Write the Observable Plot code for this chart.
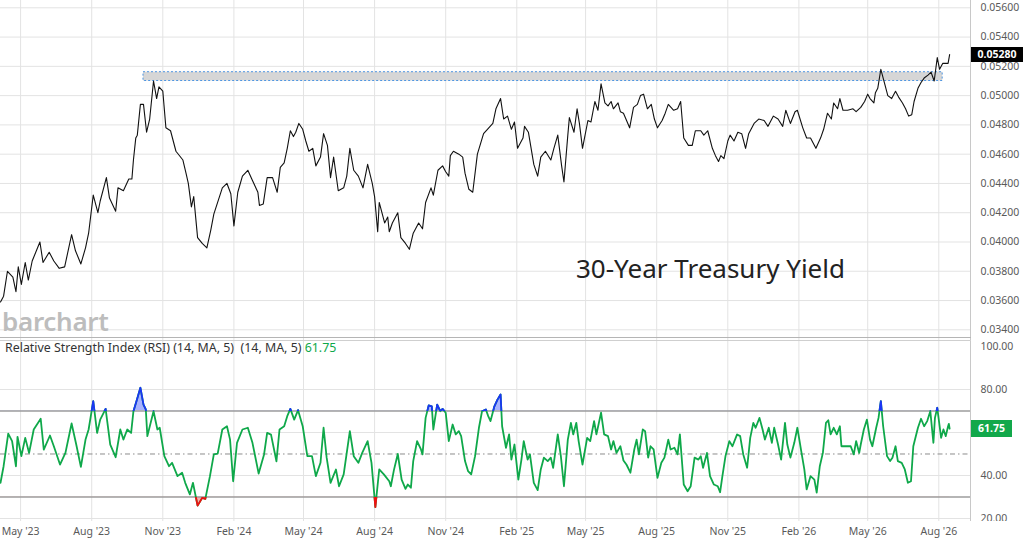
<!DOCTYPE html>
<html>
<head>
<meta charset="utf-8">
<script src="https://cdn.jsdelivr.net/npm/d3@7"></script>
<script src="https://cdn.jsdelivr.net/npm/@observablehq/plot@0.6"></script>
<style>
  html, body { margin: 0; padding: 0; background: #fff; }
  #wrap { position: relative; width: 1024px; height: 544px; overflow: hidden; font-family: "Noto Sans", sans-serif; }
  #wrap svg { position: absolute; left: 0; }
  .ov { position: absolute; white-space: nowrap; }
</style>
</head>
<body>
<div id="wrap"></div>
<script>
// ---------- Data ----------
const priceDates = [
  "2023-04-05","2023-04-09","2023-04-14","2023-04-21","2023-04-25","2023-04-28",
  "2023-05-02","2023-05-07","2023-05-11","2023-05-16","2023-05-26","2023-05-30",
  "2023-06-07","2023-06-13","2023-06-20","2023-06-27",
  "2023-07-06","2023-07-11","2023-07-18","2023-07-24","2023-07-28",
  "2023-08-03","2023-08-09","2023-08-12","2023-08-20","2023-08-24",
  "2023-09-01","2023-09-04","2023-09-11","2023-09-18","2023-09-22","2023-09-24","2023-09-27","2023-09-29",
  "2023-10-03","2023-10-07","2023-10-11","2023-10-15","2023-10-20","2023-10-24","2023-10-27",
  "2023-11-01","2023-11-05","2023-11-11","2023-11-18","2023-11-27",
  "2023-12-01","2023-12-04","2023-12-08","2023-12-11","2023-12-16","2023-12-22","2023-12-28",
  "2024-01-02","2024-01-06","2024-01-17","2024-01-23","2024-01-28",
  "2024-02-01","2024-02-06","2024-02-12","2024-02-19","2024-02-25",
  "2024-03-03","2024-03-05","2024-03-10","2024-03-15","2024-03-22","2024-03-28",
  "2024-04-01","2024-04-06","2024-04-10","2024-04-14","2024-04-18","2024-04-21","2024-04-25","2024-04-30",
  "2024-05-04","2024-05-08","2024-05-13","2024-05-17","2024-05-23","2024-05-27",
  "2024-06-01","2024-06-05","2024-06-09","2024-06-15","2024-06-22","2024-06-26","2024-06-30",
  "2024-07-05","2024-07-11","2024-07-17","2024-07-23","2024-07-29",
  "2024-08-01","2024-08-05","2024-08-07","2024-08-14","2024-08-18","2024-08-20","2024-08-24","2024-08-31",
  "2024-09-04","2024-09-10","2024-09-15","2024-09-20","2024-09-27",
  "2024-10-02","2024-10-06","2024-10-13","2024-10-16","2024-10-22","2024-10-28",
  "2024-11-01","2024-11-05","2024-11-07","2024-11-11","2024-11-18","2024-11-23","2024-11-26",
  "2024-12-01","2024-12-06","2024-12-12","2024-12-20","2024-12-25",
  "2025-01-01","2025-01-05","2025-01-11","2025-01-15","2025-01-20","2025-01-25","2025-01-29",
  "2025-02-02","2025-02-09","2025-02-11","2025-02-16","2025-02-23","2025-02-28",
  "2025-03-04","2025-03-10","2025-03-17","2025-03-21","2025-03-26","2025-03-31",
  "2025-04-03","2025-04-08","2025-04-10","2025-04-16","2025-04-20","2025-04-23","2025-04-27",
  "2025-05-04","2025-05-08","2025-05-13","2025-05-17","2025-05-21","2025-05-26","2025-05-30",
  "2025-06-03","2025-06-06","2025-06-12","2025-06-15","2025-06-19","2025-06-27",
  "2025-07-02","2025-07-07","2025-07-11","2025-07-15","2025-07-20","2025-07-25","2025-07-29",
  "2025-08-02","2025-08-08","2025-08-12","2025-08-16","2025-08-23","2025-08-28",
  "2025-09-01","2025-09-05","2025-09-11","2025-09-16","2025-09-20","2025-09-27",
  "2025-10-01","2025-10-06","2025-10-12","2025-10-16","2025-10-20","2025-10-23","2025-10-27",
  "2025-11-01","2025-11-04","2025-11-09","2025-11-14","2025-11-19","2025-11-24","2025-11-28",
  "2025-12-05","2025-12-11","2025-12-18","2025-12-23","2025-12-30",
  "2026-01-05","2026-01-11","2026-01-15","2026-01-21","2026-01-27","2026-01-30",
  "2026-02-06","2026-02-11","2026-02-16","2026-02-23",
  "2026-03-01","2026-03-05","2026-03-10","2026-03-15","2026-03-18","2026-03-23","2026-03-26","2026-03-30",
  "2026-04-05","2026-04-12","2026-04-16","2026-04-22","2026-04-27",
  "2026-05-01","2026-05-04","2026-05-09","2026-05-11","2026-05-14","2026-05-18","2026-05-23","2026-05-27",
  "2026-06-01","2026-06-06","2026-06-10","2026-06-15","2026-06-19","2026-06-23","2026-06-27","2026-06-30",
  "2026-07-05","2026-07-09","2026-07-13","2026-07-18","2026-07-22","2026-07-26","2026-07-30",
  "2026-08-02","2026-08-06","2026-08-10","2026-08-13","2026-08-15"
];
const priceValues = [
  0.0359,0.0363,0.0380,0.0376,0.0366,0.0383,
  0.0371,0.0386,0.0374,0.0387,0.0400,0.0386,
  0.0393,0.0387,0.0382,0.0383,
  0.0405,0.0394,0.0385,0.0396,0.0406,
  0.0432,0.0420,0.0428,0.0444,0.0430,
  0.0421,0.0437,0.0435,0.0443,0.0443,0.0456,0.0471,0.0473,
  0.0494,0.0494,0.0475,0.0484,0.0510,0.0498,0.0506,
  0.0503,0.0478,0.0476,0.0462,0.0456,
  0.0447,0.0440,0.0424,0.0431,0.0403,0.0399,0.0396,
  0.0408,0.0419,0.0437,0.0440,0.0433,
  0.0411,0.0434,0.0445,0.0449,0.0442,
  0.0434,0.0425,0.0426,0.0444,0.0444,0.0434,
  0.0451,0.0454,0.0464,0.0476,0.0472,0.0475,0.0481,0.0477,
  0.0469,0.0462,0.0464,0.0452,0.0458,0.0474,
  0.0466,0.0444,0.0458,0.0435,0.0437,0.0445,0.0464,
  0.0449,0.0445,0.0437,0.0453,0.0440,
  0.0431,0.0407,0.0427,0.0413,0.0417,0.0407,0.0413,0.0420,
  0.0403,0.0399,0.0395,0.0406,0.0413,
  0.0409,0.0427,0.0437,0.0432,0.0449,0.0452,
  0.0448,0.0445,0.0459,0.0462,0.0460,0.0458,0.0447,
  0.0436,0.0434,0.0460,0.0474,0.0477,
  0.0481,0.0491,0.0498,0.0484,0.0486,0.0477,0.0482,
  0.0464,0.0471,0.0479,0.0475,0.0453,0.0445,
  0.0458,0.0462,0.0456,0.0464,0.0473,0.0452,
  0.0441,0.0473,0.0485,0.0475,0.0491,0.0481,0.0464,
  0.0483,0.0482,0.0496,0.0490,0.0508,0.0495,0.0493,
  0.0496,0.0491,0.0495,0.0489,0.0488,0.0478,
  0.0492,0.0494,0.0500,0.0501,0.0491,0.0494,0.0484,
  0.0478,0.0483,0.0488,0.0494,0.0490,0.0491,
  0.0496,0.0471,0.0466,0.0466,0.0476,0.0476,
  0.0473,0.0476,0.0464,0.0459,0.0455,0.0459,0.0457,
  0.0469,0.0473,0.0469,0.0475,0.0474,0.0464,0.0474,
  0.0481,0.0484,0.0483,0.0479,0.0486,
  0.0484,0.0479,0.0490,0.0481,0.0489,0.0490,
  0.0478,0.0471,0.0471,0.0464,
  0.0471,0.0477,0.0488,0.0484,0.0495,0.0491,0.0498,0.0490,
  0.0490,0.0491,0.0489,0.0492,0.0496,
  0.0501,0.0498,0.0495,0.0502,0.0505,0.0518,0.0508,0.0500,
  0.0498,0.0503,0.0499,0.0495,0.0491,0.0486,0.0487,0.0496,
  0.0505,0.0509,0.0512,0.0514,0.0516,0.0510,0.0526,
  0.0518,0.0522,0.0522,0.0522,0.0528
];

const rsiDates = [
  "2023-04-05","2023-04-09","2023-04-15","2023-04-20","2023-04-25","2023-04-27",
  "2023-05-02","2023-05-07","2023-05-12","2023-05-18","2023-05-27","2023-05-31",
  "2023-06-08","2023-06-13","2023-06-21","2023-06-28",
  "2023-07-06","2023-07-12","2023-07-18","2023-07-24","2023-07-28",
  "2023-08-03","2023-08-08","2023-08-12","2023-08-19","2023-08-25",
  "2023-09-01","2023-09-07","2023-09-11","2023-09-16","2023-09-21","2023-09-24","2023-09-28",
  "2023-10-03","2023-10-07","2023-10-10","2023-10-12","2023-10-20","2023-10-25","2023-10-28",
  "2023-11-03","2023-11-09","2023-11-13","2023-11-20","2023-11-26","2023-11-30",
  "2023-12-06","2023-12-10","2023-12-16","2023-12-22","2023-12-26",
  "2024-01-01","2024-01-06","2024-01-11","2024-01-17","2024-01-23","2024-01-27","2024-01-31",
  "2024-02-05","2024-02-12","2024-02-19","2024-02-25",
  "2024-03-04","2024-03-11","2024-03-15","2024-03-20","2024-03-27","2024-03-31",
  "2024-04-06","2024-04-10","2024-04-14","2024-04-19","2024-04-24","2024-04-30",
  "2024-05-06","2024-05-12","2024-05-17","2024-05-23","2024-05-27","2024-05-31",
  "2024-06-05","2024-06-12","2024-06-16","2024-06-22","2024-06-30",
  "2024-07-05","2024-07-11","2024-07-16","2024-07-23","2024-07-28",
  "2024-08-02","2024-08-07","2024-08-13","2024-08-20","2024-08-22","2024-08-26","2024-08-31",
  "2024-09-05","2024-09-10","2024-09-13","2024-09-17","2024-09-20","2024-09-25","2024-09-30",
  "2024-10-02","2024-10-06","2024-10-10","2024-10-14","2024-10-16","2024-10-21","2024-10-25","2024-10-28",
  "2024-11-01","2024-11-05","2024-11-10","2024-11-14","2024-11-18","2024-11-21","2024-11-26","2024-11-30",
  "2024-12-04","2024-12-09","2024-12-14","2024-12-18","2024-12-23","2024-12-26","2024-12-29",
  "2025-01-03","2025-01-07","2025-01-11","2025-01-13","2025-01-18","2025-01-22","2025-01-25","2025-01-29",
  "2025-02-03","2025-02-07","2025-02-10","2025-02-15","2025-02-18","2025-02-23","2025-02-28",
  "2025-03-04","2025-03-08","2025-03-13","2025-03-17","2025-03-20","2025-03-26","2025-03-30",
  "2025-04-03","2025-04-08","2025-04-12","2025-04-15","2025-04-19","2025-04-22","2025-04-27",
  "2025-05-03","2025-05-07","2025-05-12","2025-05-15","2025-05-21","2025-05-25","2025-05-30",
  "2025-06-03","2025-06-06","2025-06-10","2025-06-15","2025-06-19","2025-06-23","2025-06-28",
  "2025-07-03","2025-07-06","2025-07-09","2025-07-14","2025-07-17","2025-07-21","2025-07-24","2025-07-28",
  "2025-08-02","2025-08-07","2025-08-11","2025-08-16","2025-08-19","2025-08-24","2025-08-28","2025-08-31",
  "2025-09-05","2025-09-10","2025-09-14","2025-09-19","2025-09-24","2025-09-27","2025-09-30",
  "2025-10-05","2025-10-09","2025-10-14","2025-10-19","2025-10-22","2025-10-25","2025-10-29",
  "2025-11-03","2025-11-07","2025-11-13","2025-11-17","2025-11-21","2025-11-26","2025-11-30",
  "2025-12-04","2025-12-07","2025-12-12","2025-12-16","2025-12-19","2025-12-24","2025-12-28","2025-12-31",
  "2026-01-05","2026-01-09","2026-01-14","2026-01-17","2026-01-21","2026-01-26","2026-01-30",
  "2026-02-04","2026-02-08","2026-02-11","2026-02-16","2026-02-21","2026-02-24","2026-02-28",
  "2026-03-04","2026-03-08","2026-03-11","2026-03-14","2026-03-18","2026-03-22","2026-03-26","2026-03-28",
  "2026-04-03","2026-04-09","2026-04-13","2026-04-16","2026-04-20","2026-04-22","2026-04-26","2026-04-30",
  "2026-05-04","2026-05-07","2026-05-12","2026-05-15","2026-05-18","2026-05-21","2026-05-26","2026-05-30",
  "2026-06-02","2026-06-06","2026-06-09","2026-06-14","2026-06-18","2026-06-22","2026-06-26","2026-06-29",
  "2026-07-05","2026-07-09","2026-07-13","2026-07-17","2026-07-21","2026-07-25","2026-07-27","2026-07-30",
  "2026-08-04","2026-08-07","2026-08-10","2026-08-13","2026-08-14","2026-08-15"
];
const rsiValues = [
  36.6,44.3,59.5,56,44.3,58,
  49,57.5,50.5,61.4,66.4,52,
  58.6,53.6,45.1,50.5,
  64.2,54.4,44,56.7,61.4,
  74.6,59.8,66,71,54.4,
  48.5,61.4,56.7,61.4,59.8,69.9,74.6,
  80.8,73,70.7,58.3,69.9,61.4,62.2,
  49,44.3,45.9,39.7,41.3,36.6,
  31.2,36.6,26,29.6,29.1,
  39.7,49.8,50.2,61.4,62.9,56.7,37.3,
  55.2,61.4,62.2,55.2,
  40.9,49.8,59.8,59,46.6,61.4,
  62.9,67.6,71,66,70.4,62.9,
  49,49,39.7,45.9,62.2,48.3,
  36.6,42.8,35,40.5,60.6,
  49,45.9,50.5,56,45.9,
  25.3,42.8,40.5,37.3,35,42.5,50,
  38.1,33.8,35.8,34.3,46.7,56,52.1,
  49.8,66.8,72.6,72.2,61.4,73,69.9,71,
  69.2,56,63.7,59.1,60.6,58.3,46.7,42,
  40.5,49,62.2,69.9,70.7,67.6,65.3,
  72.2,75.3,77.7,62.9,52.9,59.1,47.4,54.4,
  38.1,47.4,56,47.4,49.8,36.6,33.2,
  42.8,48.3,46.7,48.3,43.6,59.1,49,
  35,56.7,64.5,59.1,64.5,56,45.1,
  57.5,56,65.3,59.1,69.2,59.1,58.3,
  52.1,56,50.5,53.6,47,45,41.3,
  52.1,56.7,49.8,61.4,60.6,48.3,53.6,52.1,
  38.9,45.9,48.3,56.7,52.1,52.9,49.8,59.1,
  35.8,32.7,35,48.3,47.4,49,43.6,
  50.5,39.7,35.8,35,32.2,39.7,49,
  56,53.6,59.1,58.3,49.8,43.6,57.5,
  64.5,62.2,66.8,61.4,56.7,62.2,55.2,62.2,
  54.4,47.4,64.5,54.4,48.3,55.2,62.2,
  51.3,42.8,33.5,39.7,38.1,32,44.3,
  50.5,64.5,65.7,59.1,62.2,59.1,62.9,53.6,
  53.6,53.6,49.8,56,50.5,54.4,61.4,66,
  56.7,53.6,62.2,66.8,74.6,62.9,49,46.7,
  48.3,53.6,46.7,45.9,42.8,36.6,37.3,53.6,
  62.2,66.4,62.9,65.3,69.9,55.2,66.8,71.5,
  57.5,61.4,58.3,62.9,64,61.75
];

const yieldTicks = [0.034,0.036,0.038,0.040,0.042,0.044,0.046,0.048,0.050,0.052,0.054,0.056];
const rsiTickLabels = [20,40,80,100];   // 60.00 sits under the last-value badge
const rsiGrid = [20,40,60,80];
const rsiLevels = [30,70];
const rsiMid = [50];
const monthTickDates = ["2023-05-01","2023-08-01","2023-11-01","2024-02-01","2024-05-01","2024-08-01","2024-11-01","2025-02-01","2025-05-01","2025-08-01","2025-11-01","2026-02-01","2026-05-01","2026-08-01"];
const monthTickLabels = ["May '23","Aug '23","Nov '23","Feb '24","May '24","Aug '24","Nov '24","Feb '25","May '25","Aug '25","Nov '25","Feb '26","May '26","Aug '26"];
const bandStart = "2023-10-07", bandEnd = "2026-08-06", bandLow = 0.0510, bandHigh = 0.0516;
const lastYield = 0.0528, lastRsi = 61.75;
const xStart = "2023-04-05", xEnd = "2026-09-11";

// ---------- Build ----------
const parse = d3.utcParse("%Y-%m-%d");
const price = priceDates.map((d, i) => ({date: parse(d), value: priceValues[i]}));
const rsi = rsiDates.map((d, i) => ({date: parse(d), value: rsiValues[i]}));
const xDomain = [parse(xStart), parse(xEnd)];
const tickDates = monthTickDates.map(parse);
const labelMap = new Map(tickDates.map((d, i) => [+d, monthTickLabels[i]]));
const band = [{start: parse(bandStart), end: parse(bandEnd), low: bandLow, high: bandHigh}];

const FONT = '"Noto Sans", sans-serif';
const baseStyle = {fontFamily: FONT, fontSize: "10.5px", color: "#5a5a5a", background: "transparent", overflow: "visible"};
const GRID = "#e3e3e3";

const topPlot = Plot.plot({
  width: 1024, height: 338,
  marginLeft: 0, marginRight: 54, marginTop: 0, marginBottom: 0,
  style: baseStyle,
  x: {type: "utc", domain: xDomain, axis: null},
  y: {domain: [0.033406, 0.056499], axis: "right", ticks: yieldTicks, tickFormat: d3.format(".5f"), tickSize: 0, tickPadding: 10, label: null},
  marks: [
    Plot.ruleY(yieldTicks, {stroke: GRID, strokeWidth: 1}),
    Plot.ruleX(tickDates, {stroke: GRID, strokeWidth: 1}),
    Plot.ruleX([xDomain[1]], {stroke: "#c8c8c8"}),
    Plot.rect(band, {x1: "start", x2: "end", y1: "low", y2: "high", fill: "#d4d4d4", fillOpacity: 0.95, stroke: "#4d94e0", strokeDasharray: "2,2", strokeWidth: 1}),
    Plot.line(price, {x: "date", y: "value", stroke: "#111", strokeWidth: 1.1})
  ]
});

const bottomPlot = Plot.plot({
  width: 1024, height: 206,
  marginLeft: 0, marginRight: 54, marginTop: 0, marginBottom: 23,
  style: baseStyle,
  x: {type: "utc", domain: xDomain, ticks: tickDates, tickFormat: d => labelMap.get(+d), tickSize: 0, tickPadding: 6, label: null},
  y: {domain: [18.60, 103.72], axis: "right", ticks: rsiTickLabels, tickFormat: d3.format(".2f"), tickSize: 0, tickPadding: 10, label: null},
  marks: [
    Plot.ruleY(rsiGrid, {stroke: GRID, strokeWidth: 1}),
    Plot.ruleX(tickDates, {stroke: GRID, strokeWidth: 1}),
    Plot.ruleX([xDomain[1]], {stroke: "#c8c8c8"}),
    Plot.areaY(rsi, {x: "date", y1: 70, y2: "value", fill: "#a9b3ff"}),
    Plot.areaY(rsi, {x: "date", y1: 30, y2: "value", fill: "#ffaaaa"}),
    Plot.ruleY(rsiLevels, {stroke: "#9c9c9c", strokeWidth: 1.5}),
    Plot.ruleY(rsiMid, {stroke: "#8c8c8c", strokeWidth: 1, strokeDasharray: "5,3,1.5,3"}),
    Plot.line(rsi, {x: "date", y: "value", stroke: "#0fa84a", strokeWidth: 1.8}),
    Plot.line(rsi, {x: "date", y: "value", stroke: "#1a35f5", strokeWidth: 1.8}),
    Plot.line(rsi, {x: "date", y: "value", stroke: "#f01010", strokeWidth: 1.8})
  ]
});

// clip the overbought / oversold overlays using the RSI y scale
const ys = bottomPlot.scale("y");
const y70 = ys.apply(70), y30 = ys.apply(30);
const NS = "http://www.w3.org/2000/svg";
const defs = document.createElementNS(NS, "defs");
function addClip(id, y0, y1) {
  const cp = document.createElementNS(NS, "clipPath");
  cp.setAttribute("id", id);
  const r = document.createElementNS(NS, "rect");
  r.setAttribute("x", 0); r.setAttribute("y", y0);
  r.setAttribute("width", 970); r.setAttribute("height", Math.max(0, y1 - y0));
  cp.appendChild(r); defs.appendChild(cp);
}
addClip("clipOver", -5, y70);
addClip("clipUnder", y30, 200);
bottomPlot.insertBefore(defs, bottomPlot.firstChild);
const areas = bottomPlot.querySelectorAll('g[aria-label="area"]');
const lines = bottomPlot.querySelectorAll('g[aria-label="line"]');
if (areas.length >= 2) { areas[0].setAttribute("clip-path", "url(#clipOver)"); areas[1].setAttribute("clip-path", "url(#clipUnder)"); }
if (lines.length >= 3) { lines[1].setAttribute("clip-path", "url(#clipOver)"); lines[2].setAttribute("clip-path", "url(#clipUnder)"); }

const wrap = document.getElementById("wrap");
topPlot.style.top = "0px";
bottomPlot.style.top = "338px";
wrap.appendChild(topPlot);
wrap.appendChild(bottomPlot);

function addDiv(html, css) {
  const d = document.createElement("div");
  d.className = "ov";
  d.innerHTML = html;
  Object.assign(d.style, css);
  wrap.appendChild(d);
  return d;
}

// separators between panels
addDiv("", {left: "0px", top: "337px", width: "971px", height: "1px", background: "#b5b5b5"});
addDiv("", {left: "0px", top: "340px", width: "971px", height: "1px", background: "#cfcfcf"});
// cover lower part of the 20.00 label (clipped in the original)
addDiv("", {left: "972px", top: "521px", width: "52px", height: "23px", background: "#fff"});

// annotations
addDiv("30-Year Treasury Yield", {left: "576px", top: "251px", fontSize: "26px", color: "#222", fontFamily: FONT, lineHeight: "34px"});
addDiv("barchart", {left: "2px", top: "305px", fontSize: "26px", fontWeight: "600", color: "#bdbdbd", fontFamily: FONT, lineHeight: "32px", letterSpacing: "-0.3px"});
addDiv('Relative Strength Index (RSI) (14, MA, 5)&nbsp;&nbsp;(14, MA, 5) <span style="color:#0fa84a">' + d3.format(".2f")(lastRsi) + '</span>',
  {left: "5px", top: "340px", fontSize: "12.4px", color: "#333", fontFamily: FONT, lineHeight: "16px"});

// last-value badges positioned with the library's scales
const py = topPlot.scale("y").apply(lastYield);
addDiv(d3.format(".5f")(lastYield), {left: "971px", top: (py - 7.5) + "px", width: "52px", height: "15px", lineHeight: "15px", background: "#000", color: "#fff", fontWeight: "700", fontSize: "10.5px", textAlign: "center", fontFamily: FONT});
const ry = 338 + ys.apply(lastRsi);
addDiv(d3.format(".2f")(lastRsi), {left: "971px", top: (ry - 8.5) + "px", width: "41px", height: "17px", lineHeight: "17px", background: "#12a84b", color: "#fff", fontWeight: "700", fontSize: "10.5px", textAlign: "center", fontFamily: FONT});
</script>
</body>
</html>
